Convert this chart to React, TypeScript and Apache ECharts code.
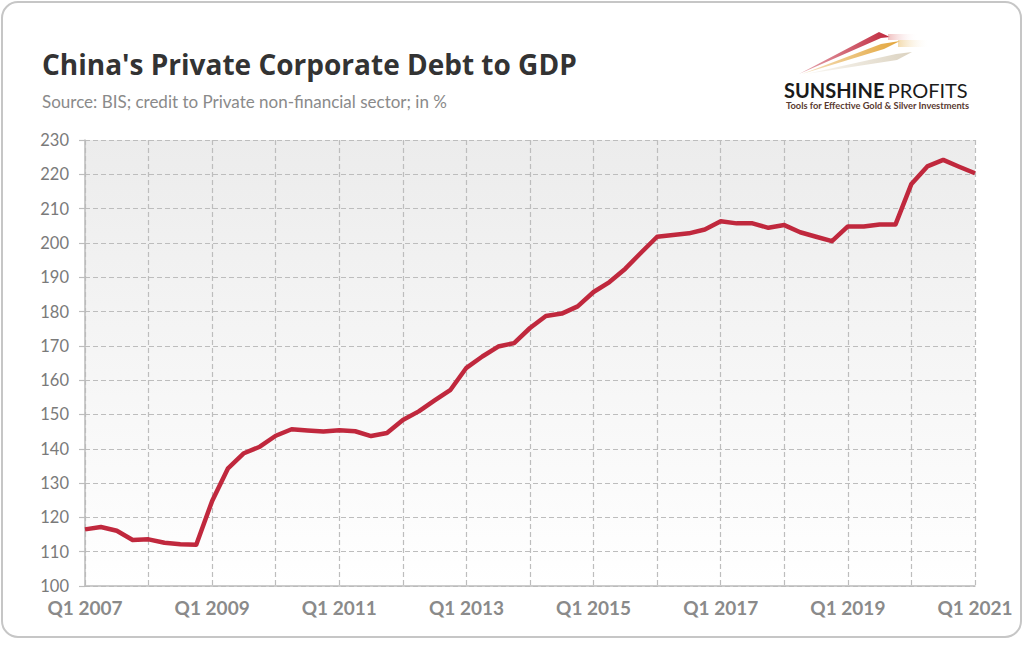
import React, { useEffect, useRef } from "react";
import * as echarts from "echarts";

const years: number[] = [2007, 2008, 2009, 2010, 2011, 2012, 2013, 2014, 2015, 2016, 2017, 2018, 2019, 2020, 2021];
const quarters: string[] = ["Q1", "Q2", "Q3", "Q4"];
const categories: string[] = [];
years.forEach((y) => {
  quarters.forEach((q) => {
    if (y < 2021 || q === "Q1") categories.push(q + " " + y);
  });
});

const debtToGdp: number[] = [
  116.5, 117.2, 116.1, 113.4,
  113.6, 112.6, 112.2, 112.0,
  124.8, 134.3, 138.7, 140.6,
  143.8, 145.7, 145.3, 145.0,
  145.4, 145.1, 143.7, 144.6,
  148.4, 150.9, 154.1, 157.2,
  163.6, 166.9, 169.8, 170.8,
  175.2, 178.7, 179.4, 181.5,
  185.7, 188.6, 192.5, 197.2,
  201.8, 202.3, 202.8, 203.9,
  206.3, 205.7, 205.7, 204.4,
  205.2, 203.1, 201.8, 200.5,
  204.8, 204.8, 205.4, 205.4,
  217.2, 222.3, 224.2, 222.2,
  220.3,
];

const titleText = "China's Private Corporate Debt to GDP";
const subtitleText = "Source: BIS; credit to Private non-financial sector; in %";
const logoName = "SUNSHINE";
const logoName2 = "PROFITS";
const logoTagline = "Tools for Effective Gold & Silver Investments";

const FONT = "Lato, 'Open Sans', sans-serif";
const TITLE_FONT = "'Open Sans', Lato, sans-serif";

export default function App() {
  const ref = useRef<HTMLDivElement>(null);
  useEffect(() => {
    document.body.style.margin = "0";
    const chart = echarts.init(ref.current!, null, { renderer: "svg" });
    chart.setOption({
      animation: false,
      backgroundColor: "#ffffff",
      title: {
        text: titleText,
        subtext: subtitleText,
        left: 37,
        top: 45,
        itemGap: 15,
        textStyle: { fontFamily: TITLE_FONT, fontSize: 28, fontWeight: "bold", color: "#333333" },
        subtextStyle: { fontFamily: FONT, fontSize: 17, color: "#8a8a8a" },
      },
      grid: {
        left: 85,
        right: 49,
        top: 140,
        bottom: 60,
        show: true,
        borderWidth: 0,
        backgroundColor: {
          type: "linear", x: 0, y: 0, x2: 0, y2: 1,
          colorStops: [
            { offset: 0, color: "#ececec" },
            { offset: 1, color: "#ffffff" },
          ],
        },
      },
      xAxis: {
        type: "category",
        data: categories,
        boundaryGap: false,
        axisLine: { show: true, lineStyle: { color: "#bbbbbb", width: 1.5 } },
        axisTick: { show: false },
        axisLabel: {
          interval: 7,
          margin: 12,
          fontFamily: FONT,
          fontSize: 19,
          fontWeight: "bold",
          color: "#8a8a8a",
        },
        splitLine: { show: true, interval: 3, lineStyle: { color: "#bdbdbd", type: [5, 3], width: 1.2 } },
      },
      yAxis: {
        type: "value",
        min: 100,
        max: 230,
        interval: 10,
        axisLine: { show: true, lineStyle: { color: "#bbbbbb", width: 1.5 } },
        axisTick: { show: true, length: 6, lineStyle: { color: "#bdbdbd", width: 1.2 } },
        axisLabel: { margin: 16, fontFamily: FONT, fontSize: 16.5, color: "#7a7a7a" },
        splitLine: { show: true, lineStyle: { color: "#bdbdbd", type: [5, 3], width: 1.2 } },
      },
      series: [
        {
          type: "line",
          data: debtToGdp,
          showSymbol: false,
          lineStyle: { color: "#c0283d", width: 4.5, join: "round" },
          z: 5,
        },
      ],
      graphic: [
        {
          type: "rect",
          shape: { x: 2, y: 2, width: 1019, height: 635, r: 16 },
          style: { fill: "none", stroke: "#c6c6c6", lineWidth: 2 },
          silent: true,
        },
        {
          type: "polygon",
          shape: { points: [[806, 74], [896, 54], [912, 52], [897, 60]] },
          style: {
            fill: { type: "linear", x: 0, y: 0, x2: 1, y2: 0, colorStops: [{ offset: 0, color: "rgba(225,215,195,0.2)" }, { offset: 1, color: "rgba(215,205,185,0.9)" }] },
          },
        },
        {
          type: "polygon",
          shape: { points: [[802, 74], [881, 44], [900, 41], [884, 49]] },
          style: {
            fill: { type: "linear", x: 0, y: 0, x2: 1, y2: 0, colorStops: [{ offset: 0, color: "rgba(225,160,50,0.3)" }, { offset: 1, color: "#e3a53a" }] },
          },
        },
        {
          type: "polygon",
          shape: { points: [[799, 74], [879, 32], [890, 37], [881, 38]] },
          style: {
            fill: { type: "linear", x: 0, y: 0, x2: 1, y2: 0, colorStops: [{ offset: 0, color: "rgba(192,40,61,0.4)" }, { offset: 1, color: "#c0283d" }] },
          },
        },
        {
          type: "rect",
          shape: { x: 888, y: 34, width: 30, height: 6 },
          style: { fill: { type: "linear", x: 0, y: 0, x2: 1, y2: 0, colorStops: [{ offset: 0, color: "rgba(230,150,150,0.6)" }, { offset: 1, color: "rgba(255,255,255,0)" }] } },
        },
        {
          type: "rect",
          shape: { x: 898, y: 40, width: 32, height: 7 },
          style: { fill: { type: "linear", x: 0, y: 0, x2: 1, y2: 0, colorStops: [{ offset: 0, color: "rgba(235,195,120,0.6)" }, { offset: 1, color: "rgba(255,255,255,0)" }] } },
        },
        {
          type: "text",
          left: 784,
          top: 80,
          style: {
            rich: {
              a: { fontFamily: FONT, fontSize: 20, fontWeight: "bold", fill: "#1a1a1a" },
              b: { fontFamily: FONT, fontSize: 20, fill: "#1a1a1a" },
            },
            text: "{a|" + logoName + "} {b|" + logoName2 + "}",
          },
        },
        {
          type: "text",
          left: 786,
          top: 101,
          style: { text: logoTagline, fontFamily: FONT, fontSize: 9.3, fontWeight: "bold", fill: "#5a3a30" },
        },
      ],
    });
    return () => chart.dispose();
  }, []);
  return <div ref={ref} style={{ width: 1024, height: 646 }} />;
}
